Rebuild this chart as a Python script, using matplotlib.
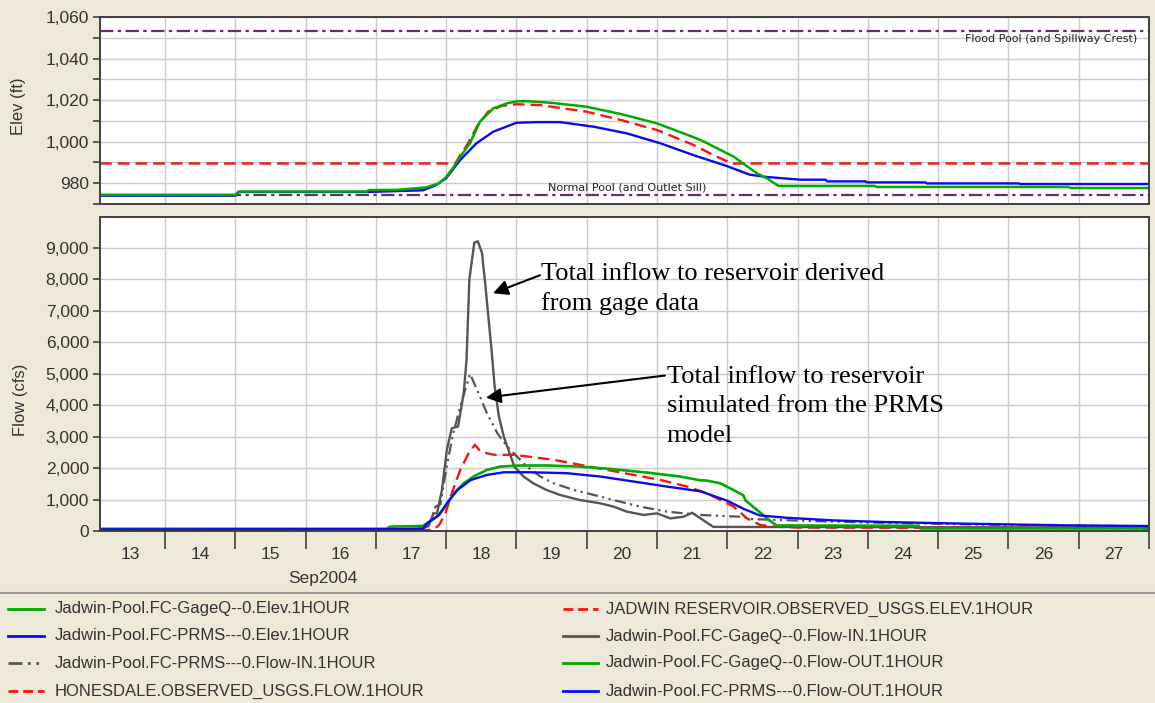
import matplotlib
matplotlib.use('Agg')
import matplotlib.pyplot as plt
from matplotlib.lines import Line2D
from matplotlib.ticker import FixedLocator, FuncFormatter, MultipleLocator

# time axis: day of Sep 2004 (fractional)
x_start, x_end = 13.075, 28.0

# ---- elevation panel ----
gage_elev_t = [13.075, 15.0, 15.05, 16.87, 16.9, 17.3, 17.72, 17.9, 18.0, 18.1, 18.2, 18.34, 18.48,
               18.67, 18.86, 19.0, 19.15, 19.5, 20.0, 20.5, 21.0, 21.5, 21.62, 21.71, 22.09, 22.42,
               22.56, 22.73, 24.1, 24.12, 26.86, 26.88, 28.0]
gage_elev = [974.4, 974.4, 976.0, 976.0, 976.7, 976.8, 978.0, 980.0, 983.0, 987.5, 992.7, 999.3, 1009.6,
             1016.0, 1018.4, 1019.4, 1019.5, 1018.7, 1016.8, 1013.2, 1008.8, 1002.4, 1000.8, 999.3, 992.8, 984.8,
             982.4, 978.7, 978.7, 978.2, 978.2, 977.7, 977.7]

prms_elev_t = [13.075, 15.0, 15.05, 16.9, 17.67, 17.85, 18.0, 18.2, 18.43, 18.67, 19.0, 19.3, 19.62,
               20.1, 20.57, 21.05, 21.52, 21.99, 22.32, 22.56, 23.04, 23.40, 23.42, 23.97, 23.99,
               24.82, 24.84, 26.15, 26.17, 28.0]
prms_elev = [974.0, 974.0, 975.8, 975.8, 976.6, 979.0, 982.4, 991.2, 999.2, 1004.8, 1009.1, 1009.4, 1009.4,
             1007.2, 1004.0, 999.2, 993.5, 988.3, 984.1, 983.0, 981.7, 981.7, 980.9, 980.9, 980.4,
             980.4, 979.9, 979.9, 979.6, 979.6]

obs_elev_t = [13.075, 18.13, 18.2, 18.3, 18.45, 18.6, 18.8, 19.0, 19.34, 20.0, 20.5, 21.0, 21.52,
              21.8, 22.0, 22.05, 28.0]
obs_elev = [989.5, 989.5, 993.5, 998.5, 1008.0, 1014.5, 1017.3, 1018.0, 1017.6, 1014.4, 1010.3, 1005.6, 998.4,
            993.6, 990.5, 989.5, 989.5]

flood_pool = 1053.3
normal_pool = 974.2

# ---- flow panel ----
gage_in_t = [13.075, 17.3, 17.6, 17.75, 17.82, 17.87, 17.94, 18.01, 18.08, 18.17, 18.25, 18.29, 18.33,
             18.40, 18.45, 18.51, 18.55, 18.60, 18.65, 18.69, 18.75, 18.82, 18.87, 18.97, 19.1, 19.24,
             19.43, 19.62, 19.9, 20.19, 20.38, 20.57, 20.81, 21.0, 21.19, 21.38, 21.5, 21.62, 21.76,
             21.8, 28.0]
gage_in = [60, 60, 80, 150, 560, 560, 1300, 2580, 3260, 3320, 4380, 5440, 7980,
           9150, 9200, 8830, 7980, 6820, 5650, 4590, 3640, 3000, 2680, 2045, 1730, 1515,
           1300, 1145, 985, 880, 775, 615, 510, 560, 400, 455, 580, 400, 190,
           130, 110]

prms_in_t = [13.075, 17.4, 17.7, 17.78, 17.85, 17.92, 17.99, 18.09, 18.2, 18.27, 18.34, 18.44, 18.58,
             18.73, 18.87, 19.01, 19.15, 19.34, 19.53, 19.82, 20.1, 20.38, 20.76, 21.14, 21.62, 22.0,
             22.22, 22.32, 23.0, 24.0, 25.0, 26.0, 27.0, 28.0]
prms_in = [50, 50, 120, 350, 775, 850, 1830, 3000, 3950, 4480, 4990, 4480, 3740,
           3100, 2680, 2360, 2045, 1730, 1515, 1300, 1145, 985, 775, 615, 510, 470,
           450, 380, 330, 270, 230, 190, 170, 150]

obs_flow_t = [13.075, 17.6, 17.81, 17.9, 17.99, 18.08, 18.2, 18.32, 18.41, 18.49, 18.58, 18.68, 18.96,
              19.25, 19.53, 19.91, 20.29, 20.67, 21.05, 21.43, 21.71, 21.9, 22.09, 22.28, 22.47, 22.66,
              23.0, 28.0]
obs_flow = [40, 40, 30, 190, 560, 1200, 1940, 2470, 2735, 2520, 2470, 2420, 2420,
            2340, 2260, 2100, 1940, 1780, 1620, 1410, 1200, 985, 775, 400, 190, 140,
            110, 90]

gage_out_t = [13.075, 17.15, 17.2, 17.67, 17.87, 17.99, 18.11, 18.25, 18.39, 18.58, 18.77, 19.06, 19.44,
              19.91, 20.38, 20.86, 21.33, 21.61, 21.71, 21.9, 22.09, 22.23, 22.26, 22.46, 22.6, 22.7,
              24.72, 24.75, 27.9, 28.0]
gage_out = [70, 70, 137, 160, 455, 775, 1200, 1515, 1730, 1940, 2045, 2080, 2080,
            2045, 1960, 1855, 1730, 1610, 1600, 1515, 1300, 1130, 970, 600, 340, 175,
            165, 80, 80, 40]

prms_out_t = [13.075, 17.67, 17.73, 17.9, 18.01, 18.16, 18.35, 18.58, 18.82, 19.2, 19.72, 20.19, 20.67,
              21.14, 21.62, 22.0, 22.23, 22.46, 22.84, 23.5, 24.26, 25.4, 26.82, 28.0]
prms_out = [50, 60, 245, 510, 880, 1300, 1620, 1780, 1865, 1865, 1835, 1730, 1570,
            1410, 1260, 960, 705, 495, 421, 337, 284, 232, 179, 158]

day_labels = [str(d) for d in range(13, 28)]

GREEN = '#00AA00'
BLUE = '#0A0AF0'
RED = '#FF1010'
GRAY = '#555555'
PURPLE = '#6E2A6E'
BEIGE = '#ECE9D8'
FRAME = '#404040'
GRID = '#CBCBCB'

dash_red = (0, (5, 2.5))
dash_purple = (0, (6, 2, 1.5, 2))
dash_gray = (0, (5, 2, 1, 2, 1, 2))

plt.rcParams['font.family'] = ['Liberation Sans', 'DejaVu Sans']

fig = plt.figure(figsize=(11.55, 7.03), dpi=100, facecolor=BEIGE)
W, H = 1155.0, 703.0
ax1 = fig.add_axes([100 / W, 1 - 204 / H, 1049 / W, 187 / H])
ax2 = fig.add_axes([100 / W, 1 - 531 / H, 1049 / W, 314 / H])

thous = FuncFormatter(lambda v, p: '{:,.0f}'.format(v))

for ax in (ax1, ax2):
    ax.set_facecolor('white')
    ax.set_xlim(x_start, x_end)
    for s in ax.spines.values():
        s.set_color(FRAME)
        s.set_linewidth(1.4)
    ax.xaxis.set_major_locator(FixedLocator(list(range(14, 29))))
    ax.grid(True, which='major', axis='x', color=GRID, lw=1.0)
    ax.set_axisbelow(True)
    ax.yaxis.set_major_formatter(thous)
    ax.tick_params(axis='y', which='both', direction='out', length=5, width=1.2, color=FRAME,
                   labelsize=12.5, labelcolor='#333333', pad=3)

# elevation panel
ax1.set_ylim(970, 1060)
ax1.yaxis.set_major_locator(MultipleLocator(20))
ax1.yaxis.set_minor_locator(MultipleLocator(10))
ax1.grid(True, which='both', axis='y', color=GRID, lw=1.0)
ax1.tick_params(axis='x', which='both', length=0, labelbottom=False)

ax1.axhline(flood_pool, color=PURPLE, lw=1.6, ls=dash_purple)
ax1.axhline(normal_pool, color=PURPLE, lw=1.6, ls=dash_purple)
ax1.plot(obs_elev_t, obs_elev, color=RED, lw=1.7, ls=dash_red)
ax1.plot(prms_elev_t, prms_elev, color=BLUE, lw=1.7)
ax1.plot(gage_elev_t, gage_elev, color=GREEN, lw=1.8)
ax1.text(27.83, 1049.3, 'Flood Pool (and Spillway Crest)', ha='right', va='center',
         fontsize=8, family='DejaVu Sans', color='#222222')
ax1.text(19.45, 977.8, 'Normal Pool (and Outlet Sill)', ha='left', va='center',
         fontsize=8, family='DejaVu Sans', color='#222222')

# flow panel
ax2.set_ylim(0, 9970)
ax2.yaxis.set_major_locator(MultipleLocator(1000))
ax2.grid(True, which='major', axis='y', color=GRID, lw=1.0)
ax2.xaxis.set_minor_locator(FixedLocator([d + 0.5 for d in range(13, 28)]))
ax2.set_xticklabels([], minor=False)
ax2.set_xticklabels(day_labels, minor=True)
ax2.tick_params(axis='x', which='major', direction='out', length=13, width=1.2, color=FRAME)
ax2.tick_params(axis='x', which='minor', length=0, pad=11.5, labelsize=12.5, labelcolor='#333333')

ax2.plot(gage_in_t, gage_in, color=GRAY, lw=1.7)
ax2.plot(prms_in_t, prms_in, color=GRAY, lw=1.6, ls=dash_gray)
ax2.plot(obs_flow_t, obs_flow, color=RED, lw=1.7, ls=dash_red)
ax2.plot(gage_out_t, gage_out, color=GREEN, lw=1.9)
ax2.plot(prms_out_t, prms_out, color=BLUE, lw=1.7)

serif = ['Liberation Serif', 'DejaVu Serif']
ax2.text(19.35, 8520, 'Total inflow to reservoir derived\nfrom gage data', ha='left', va='top',
         fontsize=19, family=serif, linespacing=1.42)
ax2.text(21.14, 5230, 'Total inflow to reservoir\nsimulated from the PRMS\nmodel', ha='left', va='top',
         fontsize=19, family=serif, linespacing=1.42)
arrow = dict(arrowstyle='-|>,head_length=0.9,head_width=0.45', color='black', lw=1.5,
             shrinkA=0, shrinkB=0)
ax2.annotate('', xy=(18.666, 7548), xytext=(19.334, 8121), arrowprops=arrow)
ax2.annotate('', xy=(18.566, 4236), xytext=(21.112, 4936), arrowprops=arrow)

# axis labels
fig.text(19 / W, 1 - 106 / H, 'Elev (ft)', rotation=90, ha='center', va='center',
         fontsize=12, color='#333333')
fig.text(20 / W, 1 - 400 / H, 'Flow (cfs)', rotation=90, ha='center', va='center',
         fontsize=12, color='#333333')
fig.text(323 / W, 1 - 578 / H, 'Sep2004', ha='center', va='center', fontsize=12.5, color='#333333')

# legend area
fig.add_artist(Line2D([0, 1], [1 - 593 / H, 1 - 593 / H], transform=fig.transFigure,
                      color='#9A9A9A', lw=1.5))
legend_items = [
    ('Jadwin-Pool.FC-GageQ--0.Elev.1HOUR', GREEN, '-'),
    ('Jadwin-Pool.FC-PRMS---0.Elev.1HOUR', BLUE, '-'),
    ('Jadwin-Pool.FC-PRMS---0.Flow-IN.1HOUR', GRAY, dash_gray),
    ('HONESDALE.OBSERVED_USGS.FLOW.1HOUR', RED, (0, (3.5, 1.8))),
    ('JADWIN RESERVOIR.OBSERVED_USGS.ELEV.1HOUR', RED, (0, (3.5, 1.8))),
    ('Jadwin-Pool.FC-GageQ--0.Flow-IN.1HOUR', GRAY, '-'),
    ('Jadwin-Pool.FC-GageQ--0.Flow-OUT.1HOUR', GREEN, '-'),
    ('Jadwin-Pool.FC-PRMS---0.Flow-OUT.1HOUR', BLUE, '-'),
]
rows_y = [609, 636, 663, 691]
cols = [(8, 44, 55), (563, 598, 606)]
for i, (name, col, ls) in enumerate(legend_items):
    x0, x1, xt = cols[i // 4]
    yy = 1 - rows_y[i % 4] / H
    fig.add_artist(Line2D([x0 / W, x1 / W], [yy, yy], transform=fig.transFigure,
                          color=col, lw=2, ls=ls))
    fig.text(xt / W, yy, name, ha='left', va='center', fontsize=12, color='#333333')

fig.savefig('out.png', dpi=100, facecolor=BEIGE)
